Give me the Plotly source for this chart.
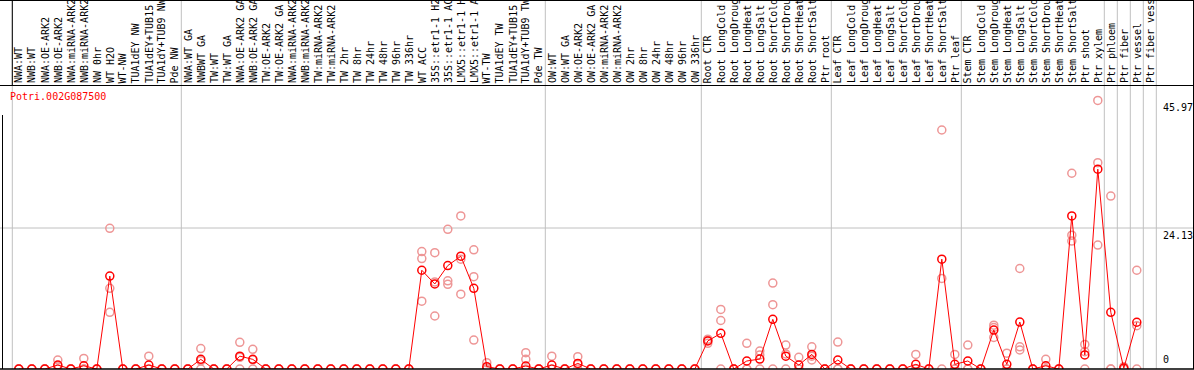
import plotly.graph_objects as go

gene = "Potri.002G087500"

# category labels as they appear in the chart (long names are truncated there)
categories = [
    "NWA:WT", "NWB:WT", "NWA:OE-ARK2", "NWB:OE-ARK2", "NWA:miRNA-ARK2", "NWB:miRNA-ARK2",
    "NW 0hr", "WT H2O", "WT-NW", "TUA1dEY NW", "TUA1dEY+TUB15", "TUA1dY+TUB9 NW", "Pde NW",
    "NWA:WT GA", "NWBWT GA", "TW:WT", "TW:WT GA", "NWA:OE-ARK2 GA", "NWB:OE-ARK2 GA",
    "TW:OE-ARK2", "TW:OE-ARK2 GA", "NWA:miRNA-ARK2", "NWB:miRNA-ARK2", "TW:miRNA-ARK2",
    "TW:miRNA-ARK2", "TW 2hr", "TW 8hr", "TW 24hr", "TW 48hr", "TW 96hr", "TW 336hr",
    "WT ACC", "35S::etr1-1 H2", "35S::etr1-1 AC", "LMX5::etr1-1 H", "LMX5::etr1-1 A",
    "WT-TW", "TUA1dEY TW", "TUA1dEY+TUB15", "TUA1dY+TUB9 TW", "Pde TW",
    "OW:WT", "OW:WT GA", "OW:OE-ARK2", "OW:OE-ARK2 GA", "OW:miRNA-ARK2", "OW:miRNA-ARK2",
    "OW 2hr", "OW 8hr", "OW 24hr", "OW 48hr", "OW 96hr", "OW 336hr",
    "Root CTR", "Root LongCold", "Root LongDroug", "Root LongHeat", "Root LongSalt",
    "Root ShortCold", "Root ShortDrou", "Root ShortHeat", "Root ShortSalt", "Ptr root",
    "Leaf CTR", "Leaf LongCold", "Leaf LongDroug", "Leaf LongHeat", "Leaf LongSalt",
    "Leaf ShortCold", "Leaf ShortDrou", "Leaf ShortHeat", "Leaf ShortSalt", "Ptr leaf",
    "Stem CTR", "Stem LongCold", "Stem LongDroug", "Stem LongHeat", "Stem LongSalt",
    "Stem ShortCold", "Stem ShortDrou", "Stem ShortHeat", "Stem ShortSalt", "Ptr shoot",
    "Ptr xylem", "Ptr phloem", "Ptr fiber", "Ptr vessel", "Ptr fiber vess",
]

mean_values = [
    0, 0, 0, 0.68, 0, 0.55, 0, 15.9, 0, 0, 0.68, 0, 0,
    0, 1.65, 0, 0, 2.2, 1.65, 0, 0, 0, 0, 0, 0, 0, 0, 0, 0, 0, 0,
    16.9, 14.55, 17.7, 19.3, 13.8, 0.4, 0, 0, 0.51, 0,
    0.68, 0, 0.96, 0, 0, 0, 0, 0, 0, 0, 0, 0,
    4.8, 6.1, 0, 1.37, 1.7, 8.5, 2.2, 0.68, 2.5, 0,
    1.54, 0, 0, 0, 0, 0, 0.8, 0, 18.8,
    0.8, 1.37, 0, 6.67, 0.8, 8.04, 0, 0.55, 0, 26.2,
    2.4, 34.2, 9.7, 0.15, 8.0,
]

rep1 = [
    0, 0, 0, 1.54, 0, 1.8, 0, 24.07, 0, 0, 2.2, 0, 0,
    0, 3.5, 0, 0, 4.56, 3.37, 0, 0, 0, 0, 0, 0, 0, 0, 0, 0, 0, 0,
    20.1, 19.9, 23.9, 26.2, 20.4, 1.08, 0, 0, 2.8, 0,
    2.2, 0, 2.1, 0, 0, 0, 0, 0, 0, 0, 0, 0,
    5.1, 10.2, 0, 4.4, 3.08, 14.7, 4.1, 2.0, 3.8, 0,
    4.6, 0, 0, 0, 0, 0, 2.5, 0, 40.9,
    2.5, 4.1, 0, 7.5, 2.7, 17.2, 0, 1.65, 0, 33.5,
    4.2, 45.97, 29.6, 0.4, 16.9,
]
rep2 = [
    0, 0, 0, 0.5, 0, 0, 0, 13.8, 0, 0, 0, 0, 0,
    0, 1.4, 0, 0, 2.0, 1.6, 0, 0, 0, 0, 0, 0, 0, 0, 0, 0, 0, 0,
    18.9, 14.9, 15.1, 18.8, 15.8, 0.1, 0, 0, 1.65, 0,
    0, 0, 0.8, 0, 0, 0, 0, 0, 0, 0, 0, 0,
    4.4, 8.3, 0, 0, 2.4, 11.0, 2.57, 0, 1.54, 0,
    0, 0, 0, 0, 0, 0, 0, 0, 15.5,
    0, 0, 0, 5.4, 0, 3.8, 0, 0, 0, 22.9,
    2.96, 35.3, 0, 0, 7.4,
]
rep3 = [
    0, 0, 0, 0, 0, 0, 0, 9.7, 0, 0, 0, 0, 0,
    0, 0, 0, 0, 0, 0, 0, 0, 0, 0, 0, 0, 0, 0, 0, 0, 0, 0,
    11.6, 9.07, 14.5, 12.8, 4.96, 0, 0, 0, 0, 0,
    0, 0, 0, 0, 0, 0, 0, 0, 0, 0, 0, 0,
    4.9, 0, 0, 0, 0, 0, 0, 0, 2.2, 0,
    0, 0, 0, 0, 0, 0, 0, 0, 0,
    0, 0, 0, 7.1, 0, 3.25, 0, 0, 0, 21.9,
    0, 21.2, 0, 0, 0,
]

group_breaks_after = [12, 40, 52, 62, 72, 83, 84, 85, 86, 87]
y_ticks = [45.97, 24.13, 0]
y_tick_text = ["45.97", "24.13", "0"]

# ---- layout geometry ----
W, H = 1194, 370
PLOT_H = 369
PX_PER_UNIT = 141 / 24.13
X0 = 18.8
STEP = 13.0
xmin = -X0 / STEP
xmax = xmin + W / STEP
ytop = PLOT_H / PX_PER_UNIT

def py2paper(py):
    return 1 - py / PLOT_H

def px2paper(px):
    return px / W

idx = list(range(len(categories)))
MONO = "DejaVu Sans Mono"

fig = go.Figure()

pink = "rgb(238,150,150)"
for reps in (rep1, rep2, rep3):
    fig.add_trace(go.Scatter(
        x=idx, y=reps, mode="markers",
        marker=dict(symbol="circle-open", size=8, color=pink, line=dict(width=1.5, color=pink)),
        showlegend=False, hoverinfo="skip",
    ))

fig.add_trace(go.Scatter(
    x=idx, y=mean_values, mode="lines+markers",
    line=dict(color="red", width=1),
    marker=dict(symbol="circle-open", size=8, color="red", line=dict(width=1.5, color="red")),
    showlegend=False,
))

shapes = []
for b in [-1] + group_breaks_after:
    shapes.append(dict(type="line", xref="x", yref="paper", x0=b + 0.5, x1=b + 0.5,
                       y0=0, y1=1, line=dict(color="#c0c0c0", width=1), layer="below"))
shapes.append(dict(type="line", xref="paper", yref="y", x0=0, x1=1, y0=y_ticks[1], y1=y_ticks[1],
                   line=dict(color="#c0c0c0", width=1), layer="below"))
shapes.append(dict(type="line", xref="paper", yref="paper", x0=0, x1=1,
                   y0=py2paper(85.5), y1=py2paper(85.5), line=dict(color="black", width=1)))
shapes.append(dict(type="line", xref="x", yref="paper", x0=-0.5, x1=-0.5,
                   y0=py2paper(85.5), y1=1, line=dict(color="black", width=1)))
shapes.append(dict(type="line", xref="paper", yref="paper", x0=0, x1=1,
                   y0=py2paper(0.5), y1=py2paper(0.5), line=dict(color="black", width=1)))
shapes.append(dict(type="line", xref="paper", yref="paper", x0=px2paper(1193.5), x1=px2paper(1193.5),
                   y0=0, y1=1, line=dict(color="black", width=1)))
shapes.append(dict(type="line", xref="paper", yref="paper", x0=px2paper(2.5), x1=px2paper(2.5),
                   y0=0, y1=py2paper(115), line=dict(color="black", width=1)))
shapes.append(dict(type="line", xref="paper", yref="paper", x0=0, x1=1,
                   y0=0, y1=0, line=dict(color="black", width=1.5)))

annotations = []
for i, name in enumerate(categories):
    annotations.append(dict(
        x=i, y=py2paper(84.3), xref="x", yref="paper", text=name, textangle=-90,
        xanchor="center", yanchor="bottom", showarrow=False,
        font=dict(family=MONO, size=10, color="black"), borderpad=0,
    ))

annotations.append(dict(x=px2paper(9), y=py2paper(96), xref="paper", yref="paper", text=gene,
                        xanchor="left", yanchor="middle", showarrow=False,
                        font=dict(family=MONO, size=10, color="red"), borderpad=0))

for v, t in zip(y_ticks, y_tick_text):
    if v == 0:
        annotations.append(dict(x=px2paper(1162), y=v, xref="paper", yref="y", text=t,
                                xanchor="left", yanchor="bottom", yshift=3, showarrow=False,
                                font=dict(family=MONO, size=10, color="black"), borderpad=0))
    else:
        annotations.append(dict(x=px2paper(1162), y=v, xref="paper", yref="y", text=t,
                                xanchor="left", yanchor="top", yshift=-1, showarrow=False,
                                font=dict(family=MONO, size=10, color="black"), borderpad=0))

fig.update_layout(
    width=W, height=H,
    margin=dict(l=0, r=0, t=0, b=H - PLOT_H, pad=0),
    paper_bgcolor="white", plot_bgcolor="white",
    xaxis=dict(range=[xmin, xmax], showgrid=False, zeroline=False, showticklabels=False,
               ticks="", fixedrange=True),
    yaxis=dict(range=[0, ytop], showgrid=False, zeroline=False, showticklabels=False,
               ticks="", fixedrange=True),
    shapes=shapes, annotations=annotations,
    showlegend=False,
)

fig.write_html(
    "out.html",
    config={"displayModeBar": False},
    post_script="document.body.style.margin='0';document.body.style.overflow='hidden';",
)
